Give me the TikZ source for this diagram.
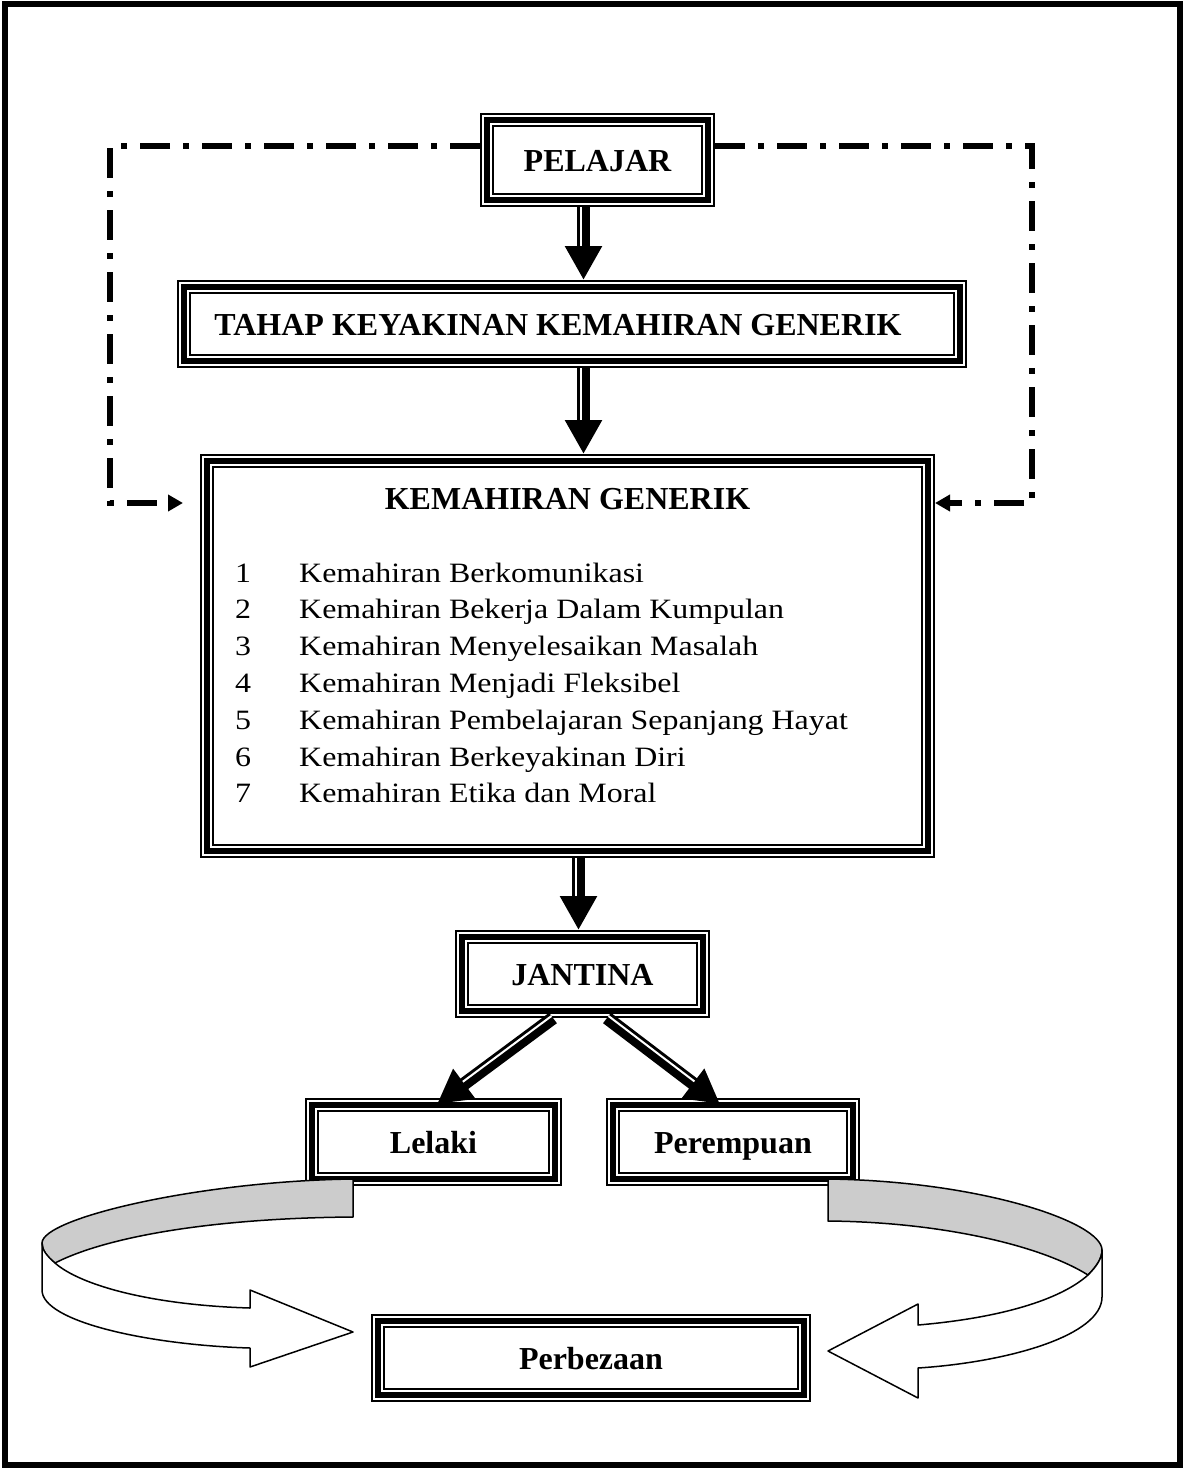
\documentclass[tikz,border=0pt]{standalone}
\usepackage{fontspec}
\setmainfont{Liberation Serif}
\newfontfamily\itemfont{Liberation Serif}[FakeStretch=1.14]
\usetikzlibrary{calc}
\usetikzlibrary{arrows.meta}

\tikzset{
  framebox/.style={draw, line width=14pt, outer sep=7pt, inner sep=0pt,
    postaction={draw, white, line width=10pt},
    postaction={draw, black, line width=6pt},
    font=\fontsize{32}{38}\selectfont\bfseries, text height=22pt, text depth=0pt},
  flow/.style={line width=13pt, -{Triangle[width=35pt,length=34pt]}},
  flowgap/.style={white, line width=2pt, shorten >=34pt},
  feedback/.style={line width=6pt, dash pattern=on 30pt off 13pt on 6pt off 13pt,
    -{Triangle[width=16pt,length=15pt]}},
  band/.style={draw=black, line width=1.5pt, line join=round},
  itemtext/.style={inner sep=0pt, anchor=base west, font=\itemfont\fontsize{28}{34}\selectfont}
}

% double stroked arrow: thin side given by the offset sign
\newcommand{\flowarrow}[3]{%
  \coordinate (fa) at (#1);
  \coordinate (fb) at (#2);
  \draw[flow] (fa) -- (fb);
  \draw[flowgap] ($(fa)!#3!90:(fb)$) -- ($(fb)!#3!-90:(fa)$);
}

\begin{document}
\begin{tikzpicture}[x=1pt, y=-1pt]
\useasboundingbox (0,0) rectangle (1185,1469);
\draw[line width=6pt] (5,4) rectangle (1180,1465);

% boxes
\node[framebox, minimum width=221pt, minimum height=80pt] (pelajar) at (597.5,160) {PELAJAR};
\node[framebox, minimum width=776pt, minimum height=74pt] (tahap) at (571.5,324)
  {TAHAP KEYAKINAN KEMAHIRAN GENERIK\hspace*{27pt}};
\node[framebox, minimum width=721pt, minimum height=390pt] (kg) at (567.5,656) {};
\node[inner sep=0pt, anchor=base, font=\fontsize{32}{38}\selectfont\bfseries] (kgtitle)
  at (567.5,509) {KEMAHIRAN GENERIK};
\foreach \n/\txt in {1/Kemahiran Berkomunikasi, 2/Kemahiran Bekerja Dalam Kumpulan,
    3/Kemahiran Menyelesaikan Masalah, 4/Kemahiran Menjadi Fleksibel,
    5/Kemahiran Pembelajaran Sepanjang Hayat, 6/Kemahiran Berkeyakinan Diri,
    7/Kemahiran Etika dan Moral} {
  \node[itemtext] (num\n) at (235,{545.2+36.8*\n}) {\n};
  \node[itemtext] (item\n) at (299,{545.2+36.8*\n}) {\txt};
}
\node[framebox, minimum width=241pt, minimum height=74pt] (jantina) at (582.5,974) {JANTINA};
\node[framebox, minimum width=243pt, minimum height=74pt] (lelaki) at (433.5,1142) {Lelaki};
\node[framebox, minimum width=240pt, minimum height=74pt] (perempuan) at (733,1142) {Perempuan};
\node[framebox, minimum width=426pt, minimum height=74pt] (perbezaan) at (591,1358) {Perbezaan};

% main flow
\coordinate (spine) at (583.5,0);
\coordinate (spinelow) at (578.5,0);
\flowarrow{pelajar.south -| spine}{tahap.north -| spine}{-2.5pt}
\flowarrow{tahap.south -| spine}{kg.north -| spine}{-2.5pt}
\flowarrow{kg.south -| spinelow}{jantina.north -| spinelow}{-2.5pt}
\flowarrow{[xshift=-29.5pt]jantina.south}{[xshift=3.5pt,yshift=-6pt]lelaki.north}{-2.5pt}
\flowarrow{[xshift=24.5pt]jantina.south}{[xshift=-13pt,yshift=-6pt]perempuan.north}{2.5pt}

% feedback loops
\coordinate (loopL) at (110,503);
\coordinate (loopR) at (1032,503);
\draw[feedback, shorten >=17pt] ([yshift=14pt]pelajar.west) -| (loopL) -- (kg.west |- loopL);
\draw[feedback] ([yshift=14pt]pelajar.east) -| (loopR) -- (kg.east |- loopR);

% curved arrows to Perbezaan
\filldraw[fill=black!20, band] (353,1179) .. controls (200,1181) and (42,1218) .. (42,1243)
  .. controls (42,1250) and (47,1257) .. (55,1263)
  .. controls (110,1235) and (220,1218) .. (353,1217) -- cycle;
\filldraw[fill=white, band] (42,1243) -- (42,1290) .. controls (42,1322) and (150,1345) .. (250,1348)
  -- (250,1367) -- (353,1332) -- (250,1290) -- (250,1308)
  .. controls (150,1305) and (80,1285) .. (55,1263)
  .. controls (47,1256) and (42,1250) .. (42,1243) -- cycle;
\filldraw[fill=black!20, band] (828,1179) .. controls (980,1181) and (1102,1222) .. (1102,1250)
  .. controls (1102,1258) and (1097,1266) .. (1088,1275)
  .. controls (1040,1245) and (940,1222) .. (828,1221) -- cycle;
\filldraw[fill=white, band] (1102,1250) -- (1102,1297) .. controls (1102,1335) and (1010,1362) .. (918,1368)
  -- (918,1398) -- (828,1351) -- (918,1304) -- (918,1325)
  .. controls (1000,1318) and (1060,1300) .. (1088,1275)
  .. controls (1097,1266) and (1102,1258) .. (1102,1250) -- cycle;
\end{tikzpicture}
\end{document}
